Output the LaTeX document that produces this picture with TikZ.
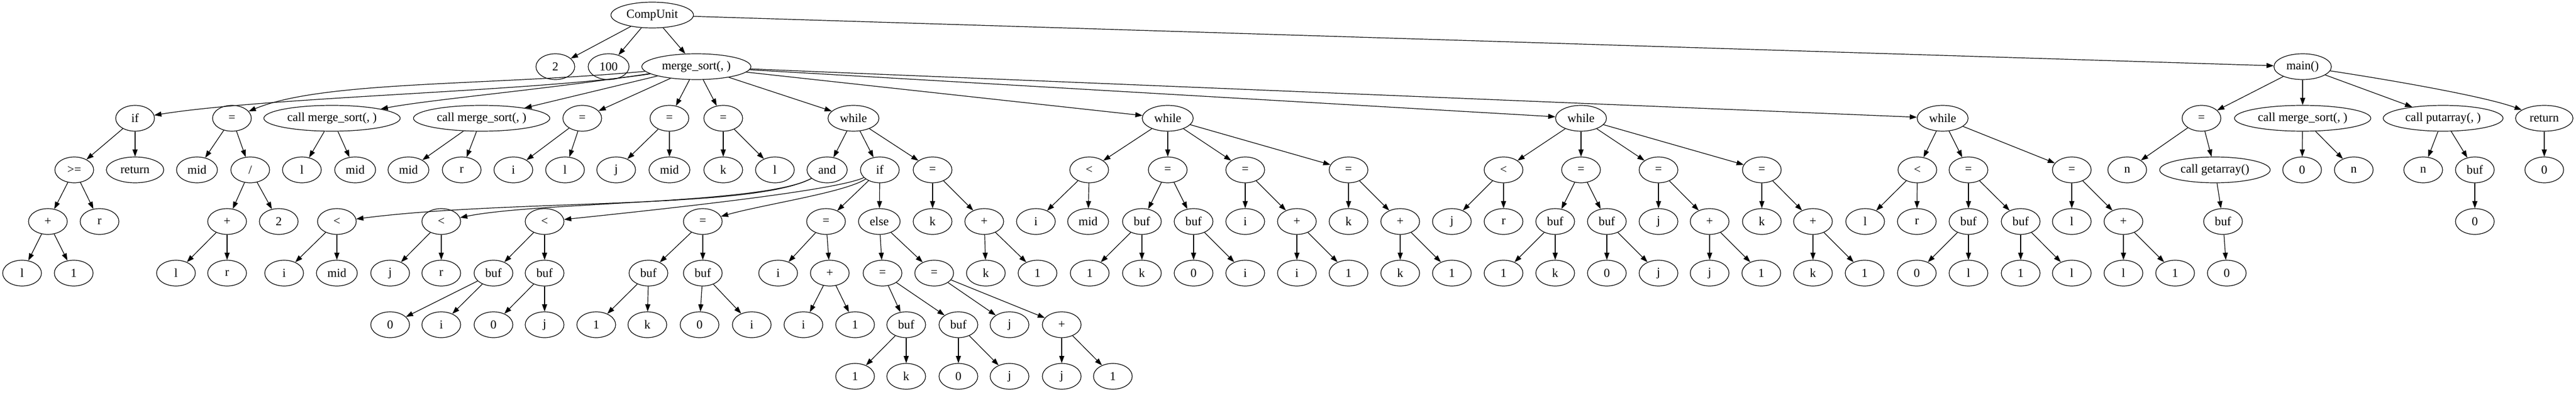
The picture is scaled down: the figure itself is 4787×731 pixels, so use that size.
\documentclass[tikz,border=0pt]{standalone}
\usepackage{fontspec}
\setmainfont{Liberation Serif}
\usetikzlibrary{shapes.geometric,arrows.meta}
\tikzset{
 nd/.style={draw, ellipse, line width=0.9pt, minimum width=54pt, minimum height=36pt, inner sep=0pt, font=\fontsize{17}{20}\selectfont},
 ed/.style={-{Triangle[length=10pt,width=7pt]}, line width=0.9pt},
}
\begin{document}
\begin{tikzpicture}[x=0.75pt,y=-0.75pt]
\fill[white] (0,0) rectangle (4787,731);
\useasboundingbox (0,0) rectangle (4787,731);
% row 0
\node[nd,minimum width=115pt] (cu) at (1212,28) {CompUnit};
% row 1
\node[nd] (n2) at (1032,124) {2};
\node[nd,minimum width=57pt] (n100) at (1131,124) {100};
\node[nd,minimum width=152pt] (ms) at (1294,124) {merge\_sort(, )};
\node[nd,minimum width=80pt] (mn) at (4279,124) {main()};
% row 2
\node[nd] (a1) at (251,220) {if};
\node[nd] (a2) at (431,220) {=};
\node[nd,minimum width=190pt] (a3) at (617,220) {call merge\_sort(, )};
\node[nd,minimum width=190pt] (a4) at (895,220) {call merge\_sort(, )};
\node[nd] (a5) at (1082,220) {=};
\node[nd] (a6) at (1244,220) {=};
\node[nd] (a7) at (1344,220) {=};
\node[nd,minimum width=71pt] (w1) at (1586,220) {while};
\node[nd,minimum width=71pt] (w2) at (2170,220) {while};
\node[nd,minimum width=71pt] (w3) at (2938,220) {while};
\node[nd,minimum width=71pt] (w4) at (3610,220) {while};
\node[nd] (m1) at (4091,220) {=};
\node[nd,minimum width=190pt] (m2) at (4279,220) {call merge\_sort(, )};
\node[nd,minimum width=167pt] (m3) at (4540,220) {call putarray(, )};
\node[nd,minimum width=80pt] (m4) at (4728,220) {return};
% row 3
\node[nd] (b1) at (138,316) {>=};
\node[nd,minimum width=80pt] (b2) at (251,316) {return};
\node[nd,minimum width=57pt] (b3) at (366,316) {mid};
\node[nd] (b4) at (465,316) {/};
\node[nd] (b5) at (561,316) {l};
\node[nd,minimum width=57pt] (b6) at (660,316) {mid};
\node[nd,minimum width=57pt] (b7) at (759,316) {mid};
\node[nd] (b8) at (858,316) {r};
\node[nd] (b9) at (954,316) {i};
\node[nd] (b10) at (1050,316) {l};
\node[nd] (b11) at (1145,316) {j};
\node[nd,minimum width=57pt] (b12) at (1244,316) {mid};
\node[nd] (b13) at (1344,316) {k};
\node[nd] (b14) at (1440,316) {l};
\node[nd,minimum width=56pt] (c1) at (1537,316) {and};
\node[nd] (c2) at (1635,316) {if};
\node[nd] (c3) at (1733,316) {=};
\node[nd] (d1) at (2024,316) {<};
\node[nd] (d2) at (2170,316) {=};
\node[nd] (d3) at (2314,316) {=};
\node[nd] (d4) at (2506,316) {=};
\node[nd] (e1) at (2794,316) {<};
\node[nd] (e2) at (2938,316) {=};
\node[nd] (e3) at (3082,316) {=};
\node[nd] (e4) at (3274,316) {=};
\node[nd] (f1) at (3563,316) {<};
\node[nd] (f2) at (3658,316) {=};
\node[nd] (f3) at (3850,316) {=};
\node[nd] (g1) at (3953,316) {n};
\node[nd,minimum width=154pt] (g2) at (4116,316) {call getarray()};
\node[nd] (g3) at (4278,316) {0};
\node[nd] (g4) at (4374,316) {n};
\node[nd] (g5) at (4503,316) {n};
\node[nd] (g6) at (4599,316) {buf};
\node[nd] (g7) at (4728,316) {0};
% row 4
\node[nd] (h1) at (89,412) {+};
\node[nd] (h2) at (185,412) {r};
\node[nd] (h3) at (422,412) {+};
\node[nd] (h4) at (518,412) {2};
\node[nd] (h5) at (626,412) {<};
\node[nd] (h6) at (820,412) {<};
\node[nd] (h7) at (1012,412) {<};
\node[nd] (h8) at (1306,412) {=};
\node[nd] (h9) at (1535,412) {=};
\node[nd,minimum width=58pt] (h10) at (1634,412) {else};
\node[nd] (h11) at (1733,412) {k};
\node[nd] (h12) at (1829,412) {+};
\node[nd] (i1) at (1925,412) {i};
\node[nd,minimum width=57pt] (i2) at (2022,412) {mid};
\node[nd] (i3) at (2122,412) {buf};
\node[nd] (i4) at (2218,412) {buf};
\node[nd] (i5) at (2314,412) {i};
\node[nd] (i6) at (2410,412) {+};
\node[nd] (i7) at (2506,412) {k};
\node[nd] (i8) at (2602,412) {+};
\node[nd] (j1) at (2698,412) {j};
\node[nd] (j2) at (2794,412) {r};
\node[nd] (j3) at (2890,412) {buf};
\node[nd] (j4) at (2986,412) {buf};
\node[nd] (j5) at (3082,412) {j};
\node[nd] (j6) at (3177,412) {+};
\node[nd] (j7) at (3274,412) {k};
\node[nd] (j8) at (3369,412) {+};
\node[nd] (k1) at (3466,412) {l};
\node[nd] (k2) at (3562,412) {r};
\node[nd] (k3) at (3658,412) {buf};
\node[nd] (k4) at (3755,412) {buf};
\node[nd] (k5) at (3850,412) {l};
\node[nd] (k6) at (3946,412) {+};
\node[nd] (k7) at (4131,412) {buf};
\node[nd] (k8) at (4599,412) {0};
% row 5
\node[nd] (p1) at (41,508) {l};
\node[nd] (p2) at (137,508) {1};
\node[nd] (p3) at (327,508) {l};
\node[nd] (p4) at (422,508) {r};
\node[nd] (p5) at (528,508) {i};
\node[nd,minimum width=57pt] (p6) at (626,508) {mid};
\node[nd] (p7) at (725,508) {j};
\node[nd] (p8) at (820,508) {r};
\node[nd] (p9) at (917,508) {buf};
\node[nd] (p10) at (1012,508) {buf};
\node[nd] (p11) at (1205,508) {buf};
\node[nd] (p12) at (1306,508) {buf};
\node[nd] (p13) at (1446,508) {i};
\node[nd] (p14) at (1542,508) {+};
\node[nd] (p15) at (1640,508) {=};
\node[nd] (p16) at (1736,508) {=};
\node[nd] (p17) at (1832,508) {k};
\node[nd] (p18) at (1928,508) {1};
\node[nd] (q1) at (2025,508) {1};
\node[nd] (q2) at (2122,508) {k};
\node[nd] (q3) at (2218,508) {0};
\node[nd] (q4) at (2314,508) {i};
\node[nd] (q5) at (2410,508) {i};
\node[nd] (q6) at (2506,508) {1};
\node[nd] (q7) at (2602,508) {k};
\node[nd] (q8) at (2698,508) {1};
\node[nd] (q9) at (2794,508) {1};
\node[nd] (q10) at (2890,508) {k};
\node[nd] (q11) at (2986,508) {0};
\node[nd] (q12) at (3082,508) {j};
\node[nd] (q13) at (3177,508) {j};
\node[nd] (q14) at (3273,508) {1};
\node[nd] (q15) at (3369,508) {k};
\node[nd] (q16) at (3465,508) {1};
\node[nd] (r1) at (3562,508) {0};
\node[nd] (r2) at (3658,508) {l};
\node[nd] (r3) at (3755,508) {1};
\node[nd] (r4) at (3850,508) {l};
\node[nd] (r5) at (3946,508) {l};
\node[nd] (r6) at (4042,508) {1};
\node[nd] (r7) at (4138,508) {0};
% row 6
\node[nd] (s1) at (725,604) {0};
\node[nd] (s2) at (820,604) {i};
\node[nd] (s3) at (917,604) {0};
\node[nd] (s4) at (1012,604) {j};
\node[nd] (s5) at (1108,604) {1};
\node[nd] (s6) at (1203,604) {k};
\node[nd] (s7) at (1300,604) {0};
\node[nd] (s8) at (1397,604) {i};
\node[nd] (s9) at (1493,604) {i};
\node[nd] (s10) at (1589,604) {1};
\node[nd] (s11) at (1684,604) {buf};
\node[nd] (s12) at (1781,604) {buf};
\node[nd] (s13) at (1876,604) {j};
\node[nd] (s14) at (1973,604) {+};
% row 7
\node[nd] (t1) at (1589,700) {1};
\node[nd] (t2) at (1684,700) {k};
\node[nd] (t3) at (1781,700) {0};
\node[nd] (t4) at (1876,700) {j};
\node[nd] (t5) at (1973,700) {j};
\node[nd] (t6) at (2068,700) {1};
% straight edges
\foreach \a/\b in {cu/n2,cu/n100,cu/ms,cu/mn,
 ms/a4,ms/a5,ms/a6,ms/a7,ms/w1,ms/w2,ms/w3,ms/w4,
 mn/m1,mn/m2,mn/m3,
 a1/b1,a1/b2,a2/b3,a2/b4,a3/b5,a3/b6,a4/b7,a4/b8,a5/b9,a5/b10,a6/b11,a6/b12,a7/b13,a7/b14,
 w1/c1,w1/c2,w1/c3,w2/d1,w2/d2,w2/d3,w2/d4,w3/e1,w3/e2,w3/e3,w3/e4,w4/f1,w4/f2,w4/f3,
 m1/g1,m1/g2,m2/g3,m2/g4,m3/g5,m3/g6,m4/g7,
 b1/h1,b1/h2,b4/h3,b4/h4,c2/h9,c2/h10,c3/h11,c3/h12,
 d1/i1,d1/i2,d2/i3,d2/i4,d3/i5,d3/i6,d4/i7,d4/i8,
 e1/j1,e1/j2,e2/j3,e2/j4,e3/j5,e3/j6,e4/j7,e4/j8,
 f1/k1,f1/k2,f2/k3,f2/k4,f3/k5,f3/k6,g2/k7,g6/k8,
 h1/p1,h1/p2,h3/p3,h3/p4,h5/p5,h5/p6,h6/p7,h6/p8,h7/p9,h7/p10,h8/p11,h8/p12,
 h9/p13,h9/p14,h10/p15,h10/p16,h12/p17,h12/p18,
 i3/q1,i3/q2,i4/q3,i4/q4,i6/q5,i6/q6,i8/q7,i8/q8,
 j3/q9,j3/q10,j4/q11,j4/q12,j6/q13,j6/q14,j8/q15,j8/q16,
 k3/r1,k3/r2,k4/r3,k4/r4,k6/r5,k6/r6,k7/r7,
 p9/s1,p9/s2,p10/s3,p10/s4,p11/s5,p11/s6,p12/s7,p12/s8,p14/s9,p14/s10,
 p15/s11,p15/s12,p16/s13,p16/s14,
 s11/t1,s11/t2,s12/t3,s12/t4,s14/t5,s14/t6}
 \draw[ed] (\a) -- (\b);
% curved edges
\draw[ed] (ms) .. controls (1000,170) and (500,180) .. (a1);
\draw[ed] (ms) .. controls (900,160) and (600,150) .. (a2);
\draw[ed] (ms) .. controls (1000,168) and (800,185) .. (a3);
\draw[ed] (c1) .. controls (1400,390) and (950,370) .. (h5);
\draw[ed] (c1) .. controls (1420,380) and (1000,375) .. (h6);
\draw[ed] (c2) .. controls (1560,352) and (1300,382) .. (h7);
\draw[ed] (c2) .. controls (1570,358) and (1420,380) .. (h8);
\draw[ed] (mn) .. controls (4450,150) and (4620,180) .. (m4);
\end{tikzpicture}
\end{document}
